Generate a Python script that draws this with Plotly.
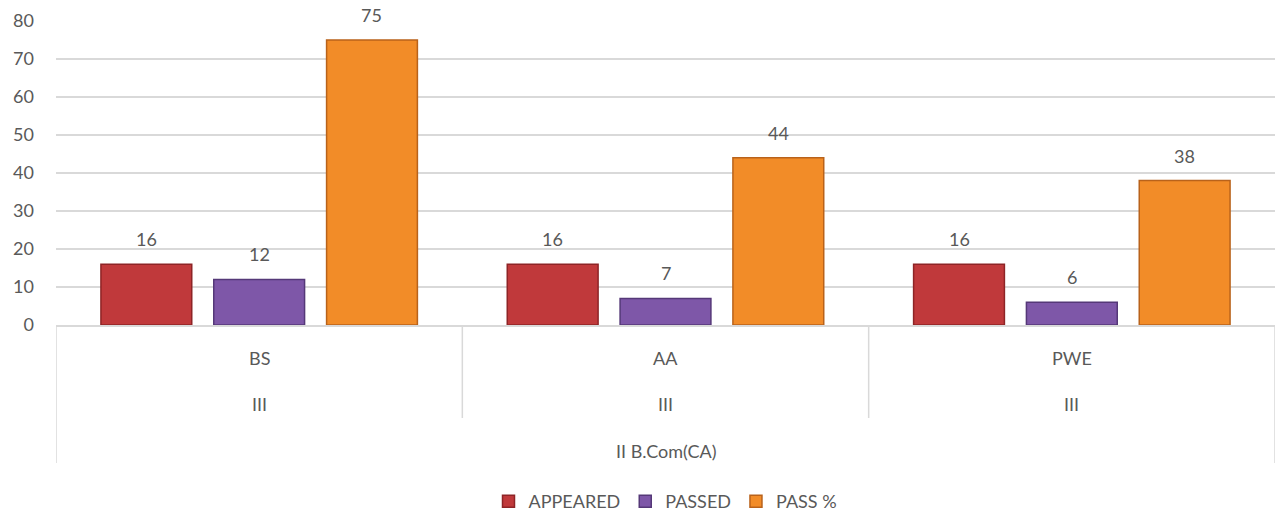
import plotly.graph_objects as go

# data
subjects = ['BS', 'AA', 'PWE']
semesters = ['III', 'III', 'III']
course = 'II B.Com(CA)'
appeared = [16, 16, 16]
passed = [12, 7, 6]
pass_pct = [75, 44, 38]

series = [
    ('APPEARED', appeared, '#C0393B', '#8E2426'),
    ('PASSED', passed, '#7E57A8', '#553878'),
    ('PASS %', pass_pct, '#F28C28', '#B9621A'),
]

xs = list(range(len(subjects)))
font = 'Lato, Open Sans, sans-serif'
grey = '#595959'
bargap = 0.167
slot = (1 - bargap) / len(series)

fig = go.Figure()
ann = []
for j, (name, vals, col, edge) in enumerate(series):
    fig.add_trace(go.Bar(
        x=xs, y=vals, name=name,
        marker=dict(color=col, line=dict(color=edge, width=1.5)),
    ))
    off = (j - (len(series) - 1) / 2) * slot
    for i, v in zip(xs, vals):
        ann.append(dict(x=i + off, y=v, xref='x', yref='y', text=str(v), showarrow=False,
                        yanchor='bottom', yshift=12, font=dict(size=18, color=grey, family=font)))

# multi-level category labels
for i, (s, sem) in enumerate(zip(subjects, semesters)):
    ann.append(dict(x=i, y=0, xref='x', yref='paper', text=s, showarrow=False,
                    yanchor='middle', yshift=-33, font=dict(size=18, color=grey, family=font)))
    ann.append(dict(x=i, y=0, xref='x', yref='paper', text=sem, showarrow=False,
                    yanchor='middle', yshift=-79, font=dict(size=18, color=grey, family=font)))
ann.append(dict(x=(len(subjects) - 1) / 2, y=0, xref='x', yref='paper', text=course, showarrow=False,
                yanchor='middle', yshift=-126, font=dict(size=18, color=grey, family=font)))

shapes = []
n = len(subjects)
for k in range(n + 1):
    edge = k == 0 or k == n
    shapes.append(dict(type='line', xref='x', yref='paper', x0=k - 0.5, x1=k - 0.5,
                       ysizemode='pixel', yanchor=0, y0=0, y1=-138 if edge else -93,
                       line=dict(color='#D9D9D9', width=1.5)))

fig.update_layout(
    width=1280, height=517,
    plot_bgcolor='white', paper_bgcolor='white',
    margin=dict(l=56, r=5, t=21, b=192, autoexpand=False),
    barmode='group', bargap=bargap, bargroupgap=0.195,
    font=dict(family=font, color=grey),
    annotations=ann, shapes=shapes,
    legend=dict(orientation='h', x=0.5, xanchor='center', yref='container', y=0.03,
                yanchor='middle', font=dict(size=18, color=grey, family=font),
                itemwidth=30, traceorder='normal', tracegroupgap=0),
    showlegend=True,
)
fig.update_xaxes(range=[-0.5, n - 0.5], showticklabels=False, showgrid=False, automargin=False,
                 zeroline=False, showline=True, linecolor='#D9D9D9', linewidth=1.5)
fig.update_yaxes(range=[0, 80], dtick=10, showgrid=True, gridcolor='#D9D9D9', gridwidth=1.5,
                 zeroline=False, showline=False, ticks='', ticklabelstandoff=21, automargin=False,
                 tickfont=dict(size=18, color=grey, family=font))

fig.write_html('out.html', config={'displayModeBar': False},
               post_script="document.body.style.margin='0';")
